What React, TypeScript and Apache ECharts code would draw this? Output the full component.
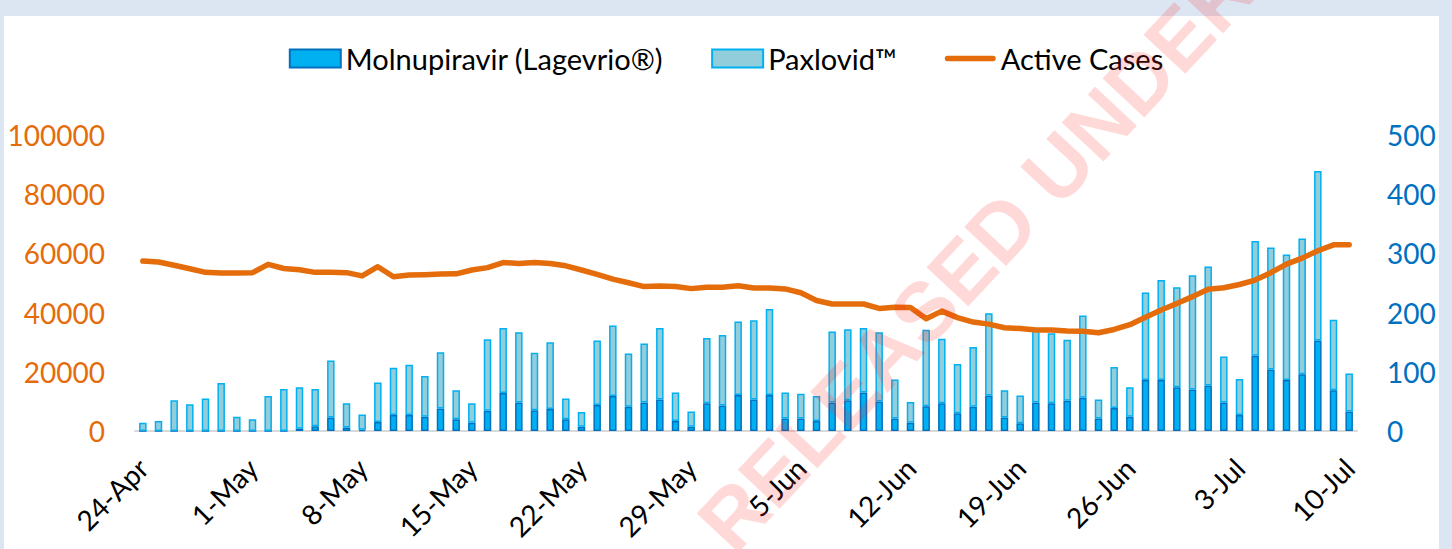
import React, { useEffect, useRef } from "react";
import * as echarts from "echarts";

const dates: string[] = [
  "24-Apr", "25-Apr", "26-Apr", "27-Apr", "28-Apr", "29-Apr", "30-Apr",
  "1-May", "2-May", "3-May", "4-May", "5-May", "6-May", "7-May",
  "8-May", "9-May", "10-May", "11-May", "12-May", "13-May", "14-May",
  "15-May", "16-May", "17-May", "18-May", "19-May", "20-May", "21-May",
  "22-May", "23-May", "24-May", "25-May", "26-May", "27-May", "28-May",
  "29-May", "30-May", "31-May", "1-Jun", "2-Jun", "3-Jun", "4-Jun",
  "5-Jun", "6-Jun", "7-Jun", "8-Jun", "9-Jun", "10-Jun", "11-Jun",
  "12-Jun", "13-Jun", "14-Jun", "15-Jun", "16-Jun", "17-Jun", "18-Jun",
  "19-Jun", "20-Jun", "21-Jun", "22-Jun", "23-Jun", "24-Jun", "25-Jun",
  "26-Jun", "27-Jun", "28-Jun", "29-Jun", "30-Jun", "1-Jul", "2-Jul",
  "3-Jul", "4-Jul", "5-Jul", "6-Jul", "7-Jul", "8-Jul", "9-Jul", "10-Jul",
];

const molnupiravir: number[] = [
  0, 0, 0, 0, 0, 0, 0,
  0, 0, 0, 4, 8, 23, 6,
  2, 15, 27, 27, 24, 38, 20,
  14, 34, 64, 48, 35, 37, 20,
  7, 44, 59, 41, 48, 53, 17,
  7, 47, 43, 61, 53, 61, 21,
  21, 17, 48, 52, 65, 50, 21,
  14, 42, 47, 30, 41, 60, 23,
  13, 48, 47, 51, 56, 21, 39,
  24, 86, 86, 74, 70, 77, 48,
  27, 127, 104, 86, 96, 153, 69, 33,
];

const paxlovid: number[] = [
  14, 17, 52, 45, 55, 81, 24,
  20, 59, 71, 70, 63, 96, 41,
  26, 67, 80, 85, 69, 95, 49,
  33, 121, 110, 119, 97, 113, 35,
  25, 109, 119, 90, 100, 121, 48,
  26, 110, 119, 124, 134, 145, 44,
  42, 42, 120, 120, 109, 117, 66,
  35, 129, 109, 83, 101, 139, 46,
  47, 123, 118, 103, 139, 32, 69,
  50, 148, 169, 169, 193, 201, 78,
  61, 194, 206, 212, 229, 286, 119, 64,
];

const activeCases: number[] = [
  57400, 57100, 56000, 54800, 53600, 53400, 53400,
  53500, 56300, 54900, 54500, 53600, 53600, 53500,
  52400, 55500, 52100, 52700, 52800, 53000, 53100,
  54400, 55200, 56900, 56600, 56900, 56600, 55800,
  54400, 52900, 51300, 50100, 48800, 49000, 48800,
  48100, 48600, 48600, 49100, 48300, 48300, 48000,
  46700, 44100, 42900, 42900, 42900, 41400, 41800,
  41700, 37900, 40500, 38300, 36800, 36100, 34900,
  34600, 34100, 34100, 33800, 33700, 33200, 34300,
  35900, 38400, 40900, 43100, 45400, 47900, 48400,
  49500, 51000, 53500, 56400, 58400, 60900, 62900, 62900,
];

const FONT = "Lato, 'Open Sans', sans-serif";

export default function App() {
  const ref = useRef<HTMLDivElement>(null);

  useEffect(() => {
    if (!ref.current) return;
    const chart = echarts.init(ref.current, null, { renderer: "svg" });
    chart.setOption({
      animation: false,
      backgroundColor: "#dce6f2",
      textStyle: { fontFamily: FONT },
      graphic: [
        {
          type: "rect",
          z: -10,
          shape: { x: 4, y: 16, width: 1435, height: 540 },
          style: { fill: "#ffffff" },
        },
        {
          type: "text",
          z: 100,
          x: 714,
          y: 537,
          rotation: (47 * Math.PI) / 180,
          style: {
            text: "RELEASED UNDER",
            fill: "rgba(255, 40, 40, 0.18)",
            font: "bold 83px 'Liberation Sans', Arial, sans-serif",
            textAlign: "left",
            textVerticalAlign: "middle",
          },
        },
      ],
      legend: {
        top: 39,
        left: "center",
        itemWidth: 51,
        itemHeight: 18,
        itemGap: 48,
        textStyle: { fontSize: 29, color: "#000000", fontFamily: FONT },
        data: [
          { name: "Molnupiravir (Lagevrio®)", icon: "rect" },
          { name: "Paxlovid™", icon: "rect" },
          {
            name: "Active Cases",
            icon: "path://M3,0h50a3,3 0 0 1 0,6h-50a3,3 0 0 1 0,-6z",
            itemStyle: { color: "#e46c0a", borderWidth: 0 },
          },
        ],
      },
      grid: { left: 135, right: 95, top: 135, bottom: 118, containLabel: false },
      xAxis: {
        type: "category",
        data: dates,
        boundaryGap: true,
        axisLine: { show: true, lineStyle: { color: "#d9d9d9", width: 2 } },
        axisTick: { show: false },
        axisLabel: {
          interval: 6,
          rotate: 45,
          margin: 32,
          fontSize: 28,
          color: "#000000",
          fontFamily: FONT,
        },
      },
      yAxis: [
        {
          type: "value",
          min: 0,
          max: 100000,
          interval: 20000,
          splitLine: { show: false },
          axisLine: { show: false },
          axisTick: { show: false },
          axisLabel: {
            margin: 30,
            fontSize: 28,
            color: "#e46c0a",
            fontFamily: FONT,
            formatter: (v: number) => String(v),
          },
        },
        {
          type: "value",
          min: 0,
          max: 500,
          interval: 100,
          splitLine: { show: false },
          axisLine: { show: false },
          axisTick: { show: false },
          axisLabel: {
            margin: 30,
            fontSize: 28,
            color: "#0070c0",
            fontFamily: FONT,
            formatter: (v: number) => String(v),
          },
        },
      ],
      series: [
        {
          name: "Molnupiravir (Lagevrio®)",
          type: "bar",
          stack: "drugs",
          yAxisIndex: 1,
          barWidth: 7.5,
          itemStyle: { color: "#00b0f0", borderColor: "#0070c0", borderWidth: 1.5 },
          data: molnupiravir,
        },
        {
          name: "Paxlovid™",
          type: "bar",
          stack: "drugs",
          yAxisIndex: 1,
          barWidth: 7.5,
          itemStyle: { color: "#92cddc", borderColor: "#00b0f0", borderWidth: 1.5 },
          data: paxlovid,
        },
        {
          name: "Active Cases",
          type: "line",
          yAxisIndex: 0,
          symbol: "none",
          showSymbol: false,
          z: 5,
          lineStyle: { color: "#e46c0a", width: 5.5, cap: "round", join: "round" },
          itemStyle: { color: "#e46c0a" },
          data: activeCases,
        },
      ],
    });
    return () => chart.dispose();
  }, []);

  return (
    <div
      ref={ref}
      style={{ position: "fixed", left: 0, top: 0, width: 1452, height: 549 }}
    />
  );
}
